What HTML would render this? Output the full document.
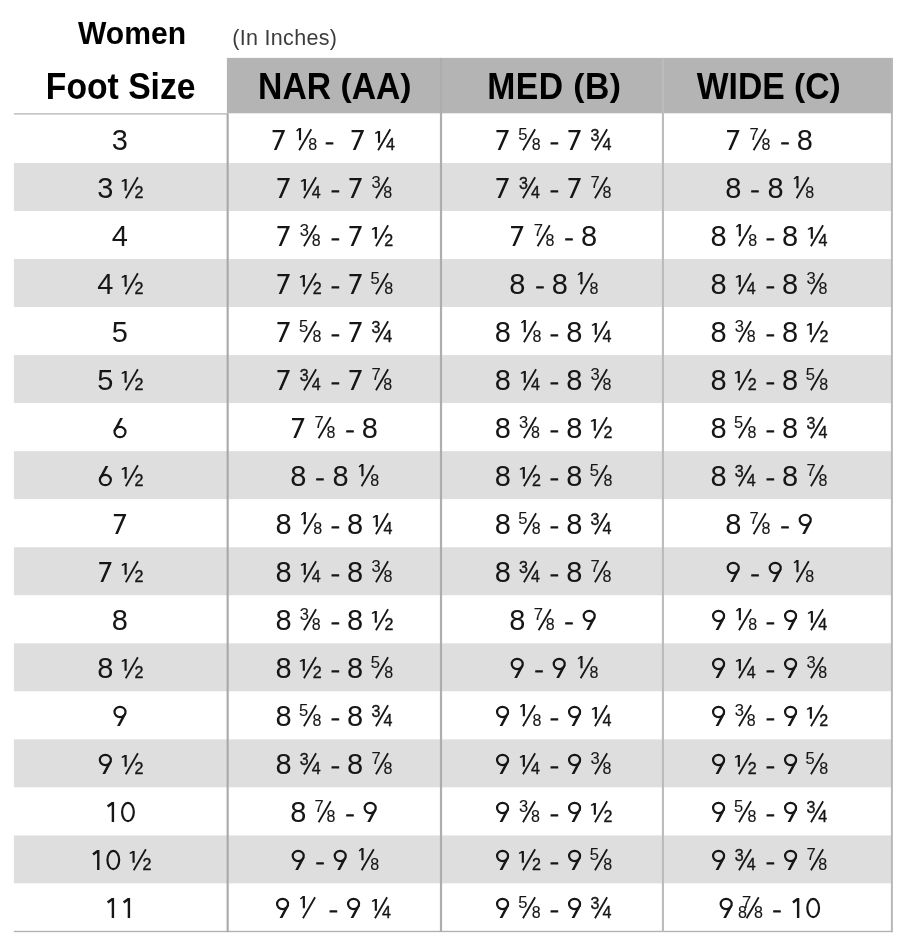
<!DOCTYPE html>
<html><head><meta charset="utf-8"><title>Women Foot Size Chart</title>
<style>
html,body{margin:0;padding:0;background:#fff;}
body{width:900px;height:946px;position:relative;overflow:hidden;font-family:"Liberation Sans",sans-serif;color:#161616;}
.abs{position:absolute;}
.layer{position:absolute;left:0;top:0;width:900px;height:946px;will-change:transform;}
.bg{position:absolute;left:0;top:0;}
.band{position:absolute;left:13.5px;width:878px;height:48px;background:#dedede;}
.hdr{position:absolute;left:227px;top:58px;width:665.5px;height:55.5px;background:#b4b4b4;}
.vl{position:absolute;top:58px;height:873.5px;width:2px;}
.hl{position:absolute;}
.t{position:absolute;white-space:nowrap;font-size:29px;line-height:30px;height:30px;transform:translateX(-50%);}
.s{display:inline-block;width:9.3px;}
.f{display:inline-block;position:relative;width:21.2px;margin-left:-1.1px;margin-right:-0.1px;height:20px;vertical-align:baseline;}
.sl{position:absolute;left:0;top:-1.6px;overflow:visible;}
.sl line{stroke:#161616;stroke-width:1.8;stroke-linecap:butt;}
.nE,.nL,.d{position:absolute;line-height:1;-webkit-text-stroke:0.12px #161616;}
.nL,.dL{-webkit-text-stroke:0.38px #161616;}
.nE{left:0;top:-3.4px;font-size:16.5px;}
.nL{left:0;top:-1.9px;font-size:16px;}
.n1{position:absolute;left:0;overflow:visible;fill:#161616;}
.o1{display:inline-block;width:16.1px;height:20px;vertical-align:baseline;}
.o7{display:inline-block;width:16.1px;height:20px;vertical-align:baseline;}
.hy svg,.o1 svg,.o7 svg{display:block;fill:#161616;overflow:visible;}
.d{right:0.3px;top:7.2px;font-size:16px;}
.p{display:inline-block;transform:translateY(-1.5px) scaleY(0.89);}
.hy{display:inline-block;width:7.7px;height:3px;vertical-align:4.8px;margin-left:0.9px;margin-right:-1.0px;}
.h{position:absolute;white-space:pre;font-weight:bold;font-size:33.7px;line-height:40px;height:40px;color:#000;transform:translateX(-50%) scaleY(1.068);transform-origin:50% 31.8px;}
</style></head><body>

<svg class="bg" width="900" height="946" viewBox="0 0 900 946"><rect x="13.9" y="163.00" width="877.6" height="47.95" fill="#dedede"/><rect x="13.9" y="259.06" width="877.6" height="47.95" fill="#dedede"/><rect x="13.9" y="355.12" width="877.6" height="47.95" fill="#dedede"/><rect x="13.9" y="451.18" width="877.6" height="47.95" fill="#dedede"/><rect x="13.9" y="547.24" width="877.6" height="47.95" fill="#dedede"/><rect x="13.9" y="643.30" width="877.6" height="47.95" fill="#dedede"/><rect x="13.9" y="739.36" width="877.6" height="47.95" fill="#dedede"/><rect x="13.9" y="835.42" width="877.6" height="47.95" fill="#dedede"/><rect x="226.9" y="57.9" width="665.9" height="55.4" fill="#b4b4b4"/><rect x="13.9" y="113.2" width="213.2" height="1.4" fill="#bbbbbb"/><rect x="13.9" y="930.8" width="879" height="1.35" fill="#b0b0b0"/><rect x="226.6" y="113.3" width="2.1" height="818.8" fill="#a9a9a9"/><rect x="439.9" y="57.9" width="2.2" height="874" fill="#adadad"/><rect x="661.9" y="57.9" width="2.1" height="874" fill="#bcbcbc"/><rect x="890.9" y="57.9" width="2.0" height="874.2" fill="#b8b8b8"/></svg>
<div class="layer">
<div class="abs" style="left:78px;top:15.6px;font-weight:bold;font-size:30.1px;line-height:36px;white-space:pre;color:#000;transform:scaleY(1.07);transform-origin:0 28.4px">Women</div>
<div class="abs" style="left:232.2px;top:25px;font-size:21.5px;line-height:26px;white-space:pre;color:#3c3c3c;letter-spacing:0.32px">(In Inches)</div>
<div class="h" style="left:120.7px;top:67.2px;letter-spacing:0.00px">Foot Size</div>
<div class="h" style="left:334.8px;top:67.2px;letter-spacing:0.00px">NAR <span class="p">(</span>AA<span class="p">)</span></div>
<div class="h" style="left:554.3px;top:67.2px;letter-spacing:0.43px">MED <span class="p">(</span>B<span class="p">)</span></div>
<div class="h" style="left:768.8px;top:67.2px;letter-spacing:0.00px">WIDE <span class="p">(</span>C<span class="p">)</span></div>
<div class="t" style="left:119.9px;top:124.70px">3</div>
<div class="t" style="left:332.8px;top:124.70px"><span class="o7"><svg width="16.1" height="20" viewBox="0 0 16.1 20"><polygon points="1.9,0 14.2,0 14.2,0.9 5.9,20 3.2,20 10.9,2.2 1.9,2.2"/></svg></span><span class="s"></span><span class="f"><svg class="sl" width="22" height="26" viewBox="0 0 22 26"><line x1="16.6" y1="1.25" x2="4.45" y2="22.3"/></svg><svg class="n1" style="top:-1.5px" width="8" height="13" viewBox="0 0 8 13"><polygon points="6.4,0 4.25,0 1.4,2.5 2.45,3.4 4.25,2.0 4.25,12.2 6.4,12.2"/></svg><span class="d" style="right:-1.2px">8</span></span><span class="s"></span><span class="hy"><svg width="8" height="3" viewBox="0 0 8 3"><rect x="0" y="0.35" width="7.7" height="2.25" rx="0.5"/></svg></span><span class="s"></span><span class="s" style="width:7.7px"></span><span class="o7"><svg width="16.1" height="20" viewBox="0 0 16.1 20"><polygon points="1.9,0 14.2,0 14.2,0.9 5.9,20 3.2,20 10.9,2.2 1.9,2.2"/></svg></span><span class="s"></span><span class="f"><svg class="sl" width="22" height="26" viewBox="0 0 22 26"><line x1="16.6" y1="1.25" x2="4.45" y2="22.3"/></svg><svg class="n1" style="top:1.2px;left:0.0px" width="8" height="13" viewBox="0 0 8 13"><polygon points="6.4,0 4.25,0 1.05,1.9 1.95,3.0 4.25,1.9 4.25,11.8 6.4,11.8"/></svg><span class="d dL" style="right:0.3px">4</span></span></div>
<div class="t" style="left:553.2px;top:124.70px"><span class="o7"><svg width="16.1" height="20" viewBox="0 0 16.1 20"><polygon points="1.9,0 14.2,0 14.2,0.9 5.9,20 3.2,20 10.9,2.2 1.9,2.2"/></svg></span><span class="s"></span><span class="f"><svg class="sl" width="22" height="26" viewBox="0 0 22 26"><line x1="16.6" y1="1.25" x2="4.45" y2="22.3"/></svg><span class="nE" style="left:-0.8px">5</span><span class="d" style="right:-0.5px">8</span></span><span class="s"></span><span class="hy"><svg width="8" height="3" viewBox="0 0 8 3"><rect x="0" y="0.35" width="7.7" height="2.25" rx="0.5"/></svg></span><span class="s"></span><span class="o7"><svg width="16.1" height="20" viewBox="0 0 16.1 20"><polygon points="1.9,0 14.2,0 14.2,0.9 5.9,20 3.2,20 10.9,2.2 1.9,2.2"/></svg></span><span class="s"></span><span class="f"><svg class="sl" width="22" height="26" viewBox="0 0 22 26"><line x1="16.6" y1="1.25" x2="4.45" y2="22.3"/></svg><span class="nL" style="left:0.0px">3</span><span class="d dL" style="right:0.3px">4</span></span></div>
<div class="t" style="left:769.0px;top:124.70px"><span class="o7"><svg width="16.1" height="20" viewBox="0 0 16.1 20"><polygon points="1.9,0 14.2,0 14.2,0.9 5.9,20 3.2,20 10.9,2.2 1.9,2.2"/></svg></span><span class="s"></span><span class="f"><svg class="sl" width="22" height="26" viewBox="0 0 22 26"><line x1="16.6" y1="1.25" x2="4.45" y2="22.3"/></svg><span class="nE" style="left:0.0px">7</span><span class="d" style="right:0.3px">8</span></span><span class="s"></span><span class="hy"><svg width="8" height="3" viewBox="0 0 8 3"><rect x="0" y="0.35" width="7.7" height="2.25" rx="0.5"/></svg></span><span class="s"></span>8</div>
<div class="t" style="left:119.9px;top:172.70px">3<span class="s"></span><span class="f"><svg class="sl" width="22" height="26" viewBox="0 0 22 26"><line x1="16.6" y1="1.25" x2="4.45" y2="22.3"/></svg><svg class="n1" style="top:1.2px;left:-1.0px" width="8" height="13" viewBox="0 0 8 13"><polygon points="6.4,0 4.25,0 1.05,1.9 1.95,3.0 4.25,1.9 4.25,11.8 6.4,11.8"/></svg><span class="d dL" style="right:-0.7px">2</span></span></div>
<div class="t" style="left:334.0px;top:172.70px"><span class="o7"><svg width="16.1" height="20" viewBox="0 0 16.1 20"><polygon points="1.9,0 14.2,0 14.2,0.9 5.9,20 3.2,20 10.9,2.2 1.9,2.2"/></svg></span><span class="s"></span><span class="f"><svg class="sl" width="22" height="26" viewBox="0 0 22 26"><line x1="16.6" y1="1.25" x2="4.45" y2="22.3"/></svg><svg class="n1" style="top:1.2px;left:0.0px" width="8" height="13" viewBox="0 0 8 13"><polygon points="6.4,0 4.25,0 1.05,1.9 1.95,3.0 4.25,1.9 4.25,11.8 6.4,11.8"/></svg><span class="d dL" style="right:0.3px">4</span></span><span class="s"></span><span class="hy"><svg width="8" height="3" viewBox="0 0 8 3"><rect x="0" y="0.35" width="7.7" height="2.25" rx="0.5"/></svg></span><span class="s"></span><span class="o7"><svg width="16.1" height="20" viewBox="0 0 16.1 20"><polygon points="1.9,0 14.2,0 14.2,0.9 5.9,20 3.2,20 10.9,2.2 1.9,2.2"/></svg></span><span class="s"></span><span class="f"><svg class="sl" width="22" height="26" viewBox="0 0 22 26"><line x1="16.6" y1="1.25" x2="4.45" y2="22.3"/></svg><span class="nE" style="left:0.0px">3</span><span class="d" style="right:0.3px">8</span></span></div>
<div class="t" style="left:553.2px;top:172.70px"><span class="o7"><svg width="16.1" height="20" viewBox="0 0 16.1 20"><polygon points="1.9,0 14.2,0 14.2,0.9 5.9,20 3.2,20 10.9,2.2 1.9,2.2"/></svg></span><span class="s"></span><span class="f"><svg class="sl" width="22" height="26" viewBox="0 0 22 26"><line x1="16.6" y1="1.25" x2="4.45" y2="22.3"/></svg><span class="nL" style="left:0.0px">3</span><span class="d dL" style="right:0.3px">4</span></span><span class="s"></span><span class="hy"><svg width="8" height="3" viewBox="0 0 8 3"><rect x="0" y="0.35" width="7.7" height="2.25" rx="0.5"/></svg></span><span class="s"></span><span class="o7"><svg width="16.1" height="20" viewBox="0 0 16.1 20"><polygon points="1.9,0 14.2,0 14.2,0.9 5.9,20 3.2,20 10.9,2.2 1.9,2.2"/></svg></span><span class="s"></span><span class="f"><svg class="sl" width="22" height="26" viewBox="0 0 22 26"><line x1="16.6" y1="1.25" x2="4.45" y2="22.3"/></svg><span class="nE" style="left:0.0px">7</span><span class="d" style="right:0.3px">8</span></span></div>
<div class="t" style="left:769.0px;top:172.70px">8<span class="s"></span><span class="hy"><svg width="8" height="3" viewBox="0 0 8 3"><rect x="0" y="0.35" width="7.7" height="2.25" rx="0.5"/></svg></span><span class="s"></span>8<span class="s"></span><span class="f"><svg class="sl" width="22" height="26" viewBox="0 0 22 26"><line x1="16.6" y1="1.25" x2="4.45" y2="22.3"/></svg><svg class="n1" style="top:-1.5px" width="8" height="13" viewBox="0 0 8 13"><polygon points="6.4,0 4.25,0 1.4,2.5 2.45,3.4 4.25,2.0 4.25,12.2 6.4,12.2"/></svg><span class="d" style="right:-1.2px">8</span></span></div>
<div class="t" style="left:119.9px;top:220.70px">4</div>
<div class="t" style="left:334.0px;top:220.70px"><span class="o7"><svg width="16.1" height="20" viewBox="0 0 16.1 20"><polygon points="1.9,0 14.2,0 14.2,0.9 5.9,20 3.2,20 10.9,2.2 1.9,2.2"/></svg></span><span class="s"></span><span class="f"><svg class="sl" width="22" height="26" viewBox="0 0 22 26"><line x1="16.6" y1="1.25" x2="4.45" y2="22.3"/></svg><span class="nE" style="left:0.0px">3</span><span class="d" style="right:0.3px">8</span></span><span class="s"></span><span class="hy"><svg width="8" height="3" viewBox="0 0 8 3"><rect x="0" y="0.35" width="7.7" height="2.25" rx="0.5"/></svg></span><span class="s"></span><span class="o7"><svg width="16.1" height="20" viewBox="0 0 16.1 20"><polygon points="1.9,0 14.2,0 14.2,0.9 5.9,20 3.2,20 10.9,2.2 1.9,2.2"/></svg></span><span class="s"></span><span class="f"><svg class="sl" width="22" height="26" viewBox="0 0 22 26"><line x1="16.6" y1="1.25" x2="4.45" y2="22.3"/></svg><svg class="n1" style="top:1.2px;left:-1.0px" width="8" height="13" viewBox="0 0 8 13"><polygon points="6.4,0 4.25,0 1.05,1.9 1.95,3.0 4.25,1.9 4.25,11.8 6.4,11.8"/></svg><span class="d dL" style="right:-0.7px">2</span></span></div>
<div class="t" style="left:553.2px;top:220.70px"><span class="o7"><svg width="16.1" height="20" viewBox="0 0 16.1 20"><polygon points="1.9,0 14.2,0 14.2,0.9 5.9,20 3.2,20 10.9,2.2 1.9,2.2"/></svg></span><span class="s"></span><span class="f"><svg class="sl" width="22" height="26" viewBox="0 0 22 26"><line x1="16.6" y1="1.25" x2="4.45" y2="22.3"/></svg><span class="nE" style="left:0.0px">7</span><span class="d" style="right:0.3px">8</span></span><span class="s"></span><span class="hy"><svg width="8" height="3" viewBox="0 0 8 3"><rect x="0" y="0.35" width="7.7" height="2.25" rx="0.5"/></svg></span><span class="s"></span>8</div>
<div class="t" style="left:769.0px;top:220.70px">8<span class="s"></span><span class="f"><svg class="sl" width="22" height="26" viewBox="0 0 22 26"><line x1="16.6" y1="1.25" x2="4.45" y2="22.3"/></svg><svg class="n1" style="top:-1.5px" width="8" height="13" viewBox="0 0 8 13"><polygon points="6.4,0 4.25,0 1.4,2.5 2.45,3.4 4.25,2.0 4.25,12.2 6.4,12.2"/></svg><span class="d" style="right:-1.2px">8</span></span><span class="s"></span><span class="hy"><svg width="8" height="3" viewBox="0 0 8 3"><rect x="0" y="0.35" width="7.7" height="2.25" rx="0.5"/></svg></span><span class="s"></span>8<span class="s"></span><span class="f"><svg class="sl" width="22" height="26" viewBox="0 0 22 26"><line x1="16.6" y1="1.25" x2="4.45" y2="22.3"/></svg><svg class="n1" style="top:1.2px;left:0.0px" width="8" height="13" viewBox="0 0 8 13"><polygon points="6.4,0 4.25,0 1.05,1.9 1.95,3.0 4.25,1.9 4.25,11.8 6.4,11.8"/></svg><span class="d dL" style="right:0.3px">4</span></span></div>
<div class="t" style="left:119.9px;top:268.70px">4<span class="s"></span><span class="f"><svg class="sl" width="22" height="26" viewBox="0 0 22 26"><line x1="16.6" y1="1.25" x2="4.45" y2="22.3"/></svg><svg class="n1" style="top:1.2px;left:-1.0px" width="8" height="13" viewBox="0 0 8 13"><polygon points="6.4,0 4.25,0 1.05,1.9 1.95,3.0 4.25,1.9 4.25,11.8 6.4,11.8"/></svg><span class="d dL" style="right:-0.7px">2</span></span></div>
<div class="t" style="left:334.0px;top:268.70px"><span class="o7"><svg width="16.1" height="20" viewBox="0 0 16.1 20"><polygon points="1.9,0 14.2,0 14.2,0.9 5.9,20 3.2,20 10.9,2.2 1.9,2.2"/></svg></span><span class="s"></span><span class="f"><svg class="sl" width="22" height="26" viewBox="0 0 22 26"><line x1="16.6" y1="1.25" x2="4.45" y2="22.3"/></svg><svg class="n1" style="top:1.2px;left:-1.0px" width="8" height="13" viewBox="0 0 8 13"><polygon points="6.4,0 4.25,0 1.05,1.9 1.95,3.0 4.25,1.9 4.25,11.8 6.4,11.8"/></svg><span class="d dL" style="right:-0.7px">2</span></span><span class="s"></span><span class="hy"><svg width="8" height="3" viewBox="0 0 8 3"><rect x="0" y="0.35" width="7.7" height="2.25" rx="0.5"/></svg></span><span class="s"></span><span class="o7"><svg width="16.1" height="20" viewBox="0 0 16.1 20"><polygon points="1.9,0 14.2,0 14.2,0.9 5.9,20 3.2,20 10.9,2.2 1.9,2.2"/></svg></span><span class="s"></span><span class="f"><svg class="sl" width="22" height="26" viewBox="0 0 22 26"><line x1="16.6" y1="1.25" x2="4.45" y2="22.3"/></svg><span class="nE" style="left:-0.8px">5</span><span class="d" style="right:-0.5px">8</span></span></div>
<div class="t" style="left:553.2px;top:268.70px">8<span class="s"></span><span class="hy"><svg width="8" height="3" viewBox="0 0 8 3"><rect x="0" y="0.35" width="7.7" height="2.25" rx="0.5"/></svg></span><span class="s"></span>8<span class="s"></span><span class="f"><svg class="sl" width="22" height="26" viewBox="0 0 22 26"><line x1="16.6" y1="1.25" x2="4.45" y2="22.3"/></svg><svg class="n1" style="top:-1.5px" width="8" height="13" viewBox="0 0 8 13"><polygon points="6.4,0 4.25,0 1.4,2.5 2.45,3.4 4.25,2.0 4.25,12.2 6.4,12.2"/></svg><span class="d" style="right:-1.2px">8</span></span></div>
<div class="t" style="left:769.0px;top:268.70px">8<span class="s"></span><span class="f"><svg class="sl" width="22" height="26" viewBox="0 0 22 26"><line x1="16.6" y1="1.25" x2="4.45" y2="22.3"/></svg><svg class="n1" style="top:1.2px;left:0.0px" width="8" height="13" viewBox="0 0 8 13"><polygon points="6.4,0 4.25,0 1.05,1.9 1.95,3.0 4.25,1.9 4.25,11.8 6.4,11.8"/></svg><span class="d dL" style="right:0.3px">4</span></span><span class="s"></span><span class="hy"><svg width="8" height="3" viewBox="0 0 8 3"><rect x="0" y="0.35" width="7.7" height="2.25" rx="0.5"/></svg></span><span class="s"></span>8<span class="s"></span><span class="f"><svg class="sl" width="22" height="26" viewBox="0 0 22 26"><line x1="16.6" y1="1.25" x2="4.45" y2="22.3"/></svg><span class="nE" style="left:0.0px">3</span><span class="d" style="right:0.3px">8</span></span></div>
<div class="t" style="left:119.9px;top:316.70px">5</div>
<div class="t" style="left:334.0px;top:316.70px"><span class="o7"><svg width="16.1" height="20" viewBox="0 0 16.1 20"><polygon points="1.9,0 14.2,0 14.2,0.9 5.9,20 3.2,20 10.9,2.2 1.9,2.2"/></svg></span><span class="s"></span><span class="f"><svg class="sl" width="22" height="26" viewBox="0 0 22 26"><line x1="16.6" y1="1.25" x2="4.45" y2="22.3"/></svg><span class="nE" style="left:-0.8px">5</span><span class="d" style="right:-0.5px">8</span></span><span class="s"></span><span class="hy"><svg width="8" height="3" viewBox="0 0 8 3"><rect x="0" y="0.35" width="7.7" height="2.25" rx="0.5"/></svg></span><span class="s"></span><span class="o7"><svg width="16.1" height="20" viewBox="0 0 16.1 20"><polygon points="1.9,0 14.2,0 14.2,0.9 5.9,20 3.2,20 10.9,2.2 1.9,2.2"/></svg></span><span class="s"></span><span class="f"><svg class="sl" width="22" height="26" viewBox="0 0 22 26"><line x1="16.6" y1="1.25" x2="4.45" y2="22.3"/></svg><span class="nL" style="left:0.0px">3</span><span class="d dL" style="right:0.3px">4</span></span></div>
<div class="t" style="left:553.2px;top:316.70px">8<span class="s"></span><span class="f"><svg class="sl" width="22" height="26" viewBox="0 0 22 26"><line x1="16.6" y1="1.25" x2="4.45" y2="22.3"/></svg><svg class="n1" style="top:-1.5px" width="8" height="13" viewBox="0 0 8 13"><polygon points="6.4,0 4.25,0 1.4,2.5 2.45,3.4 4.25,2.0 4.25,12.2 6.4,12.2"/></svg><span class="d" style="right:-1.2px">8</span></span><span class="s"></span><span class="hy"><svg width="8" height="3" viewBox="0 0 8 3"><rect x="0" y="0.35" width="7.7" height="2.25" rx="0.5"/></svg></span><span class="s"></span>8<span class="s"></span><span class="f"><svg class="sl" width="22" height="26" viewBox="0 0 22 26"><line x1="16.6" y1="1.25" x2="4.45" y2="22.3"/></svg><svg class="n1" style="top:1.2px;left:0.0px" width="8" height="13" viewBox="0 0 8 13"><polygon points="6.4,0 4.25,0 1.05,1.9 1.95,3.0 4.25,1.9 4.25,11.8 6.4,11.8"/></svg><span class="d dL" style="right:0.3px">4</span></span></div>
<div class="t" style="left:769.0px;top:316.70px">8<span class="s"></span><span class="f"><svg class="sl" width="22" height="26" viewBox="0 0 22 26"><line x1="16.6" y1="1.25" x2="4.45" y2="22.3"/></svg><span class="nE" style="left:0.0px">3</span><span class="d" style="right:0.3px">8</span></span><span class="s"></span><span class="hy"><svg width="8" height="3" viewBox="0 0 8 3"><rect x="0" y="0.35" width="7.7" height="2.25" rx="0.5"/></svg></span><span class="s"></span>8<span class="s"></span><span class="f"><svg class="sl" width="22" height="26" viewBox="0 0 22 26"><line x1="16.6" y1="1.25" x2="4.45" y2="22.3"/></svg><svg class="n1" style="top:1.2px;left:-1.0px" width="8" height="13" viewBox="0 0 8 13"><polygon points="6.4,0 4.25,0 1.05,1.9 1.95,3.0 4.25,1.9 4.25,11.8 6.4,11.8"/></svg><span class="d dL" style="right:-0.7px">2</span></span></div>
<div class="t" style="left:119.9px;top:364.70px">5<span class="s"></span><span class="f"><svg class="sl" width="22" height="26" viewBox="0 0 22 26"><line x1="16.6" y1="1.25" x2="4.45" y2="22.3"/></svg><svg class="n1" style="top:1.2px;left:-1.0px" width="8" height="13" viewBox="0 0 8 13"><polygon points="6.4,0 4.25,0 1.05,1.9 1.95,3.0 4.25,1.9 4.25,11.8 6.4,11.8"/></svg><span class="d dL" style="right:-0.7px">2</span></span></div>
<div class="t" style="left:334.0px;top:364.70px"><span class="o7"><svg width="16.1" height="20" viewBox="0 0 16.1 20"><polygon points="1.9,0 14.2,0 14.2,0.9 5.9,20 3.2,20 10.9,2.2 1.9,2.2"/></svg></span><span class="s"></span><span class="f"><svg class="sl" width="22" height="26" viewBox="0 0 22 26"><line x1="16.6" y1="1.25" x2="4.45" y2="22.3"/></svg><span class="nL" style="left:0.0px">3</span><span class="d dL" style="right:0.3px">4</span></span><span class="s"></span><span class="hy"><svg width="8" height="3" viewBox="0 0 8 3"><rect x="0" y="0.35" width="7.7" height="2.25" rx="0.5"/></svg></span><span class="s"></span><span class="o7"><svg width="16.1" height="20" viewBox="0 0 16.1 20"><polygon points="1.9,0 14.2,0 14.2,0.9 5.9,20 3.2,20 10.9,2.2 1.9,2.2"/></svg></span><span class="s"></span><span class="f"><svg class="sl" width="22" height="26" viewBox="0 0 22 26"><line x1="16.6" y1="1.25" x2="4.45" y2="22.3"/></svg><span class="nE" style="left:0.0px">7</span><span class="d" style="right:0.3px">8</span></span></div>
<div class="t" style="left:553.2px;top:364.70px">8<span class="s"></span><span class="f"><svg class="sl" width="22" height="26" viewBox="0 0 22 26"><line x1="16.6" y1="1.25" x2="4.45" y2="22.3"/></svg><svg class="n1" style="top:1.2px;left:0.0px" width="8" height="13" viewBox="0 0 8 13"><polygon points="6.4,0 4.25,0 1.05,1.9 1.95,3.0 4.25,1.9 4.25,11.8 6.4,11.8"/></svg><span class="d dL" style="right:0.3px">4</span></span><span class="s"></span><span class="hy"><svg width="8" height="3" viewBox="0 0 8 3"><rect x="0" y="0.35" width="7.7" height="2.25" rx="0.5"/></svg></span><span class="s"></span>8<span class="s"></span><span class="f"><svg class="sl" width="22" height="26" viewBox="0 0 22 26"><line x1="16.6" y1="1.25" x2="4.45" y2="22.3"/></svg><span class="nE" style="left:0.0px">3</span><span class="d" style="right:0.3px">8</span></span></div>
<div class="t" style="left:769.0px;top:364.70px">8<span class="s"></span><span class="f"><svg class="sl" width="22" height="26" viewBox="0 0 22 26"><line x1="16.6" y1="1.25" x2="4.45" y2="22.3"/></svg><svg class="n1" style="top:1.2px;left:-1.0px" width="8" height="13" viewBox="0 0 8 13"><polygon points="6.4,0 4.25,0 1.05,1.9 1.95,3.0 4.25,1.9 4.25,11.8 6.4,11.8"/></svg><span class="d dL" style="right:-0.7px">2</span></span><span class="s"></span><span class="hy"><svg width="8" height="3" viewBox="0 0 8 3"><rect x="0" y="0.35" width="7.7" height="2.25" rx="0.5"/></svg></span><span class="s"></span>8<span class="s"></span><span class="f"><svg class="sl" width="22" height="26" viewBox="0 0 22 26"><line x1="16.6" y1="1.25" x2="4.45" y2="22.3"/></svg><span class="nE" style="left:-0.8px">5</span><span class="d" style="right:-0.5px">8</span></span></div>
<div class="t" style="left:119.9px;top:412.70px"><span class="o7"><svg width="16.1" height="20" viewBox="0 0 16.1 20"><g transform="rotate(180 8.05 10)"><ellipse cx="8.05" cy="5.95" rx="5.5" ry="5.15" fill="none" stroke="#161616" stroke-width="2.2"/><polygon points="14.55,7.5 7.9,20 5.1,20 10.15,10.5 13.0,6.8"/></g></svg></span></div>
<div class="t" style="left:334.0px;top:412.70px"><span class="o7"><svg width="16.1" height="20" viewBox="0 0 16.1 20"><polygon points="1.9,0 14.2,0 14.2,0.9 5.9,20 3.2,20 10.9,2.2 1.9,2.2"/></svg></span><span class="s"></span><span class="f"><svg class="sl" width="22" height="26" viewBox="0 0 22 26"><line x1="16.6" y1="1.25" x2="4.45" y2="22.3"/></svg><span class="nE" style="left:0.0px">7</span><span class="d" style="right:0.3px">8</span></span><span class="s"></span><span class="hy"><svg width="8" height="3" viewBox="0 0 8 3"><rect x="0" y="0.35" width="7.7" height="2.25" rx="0.5"/></svg></span><span class="s"></span>8</div>
<div class="t" style="left:553.2px;top:412.70px">8<span class="s"></span><span class="f"><svg class="sl" width="22" height="26" viewBox="0 0 22 26"><line x1="16.6" y1="1.25" x2="4.45" y2="22.3"/></svg><span class="nE" style="left:0.0px">3</span><span class="d" style="right:0.3px">8</span></span><span class="s"></span><span class="hy"><svg width="8" height="3" viewBox="0 0 8 3"><rect x="0" y="0.35" width="7.7" height="2.25" rx="0.5"/></svg></span><span class="s"></span>8<span class="s"></span><span class="f"><svg class="sl" width="22" height="26" viewBox="0 0 22 26"><line x1="16.6" y1="1.25" x2="4.45" y2="22.3"/></svg><svg class="n1" style="top:1.2px;left:-1.0px" width="8" height="13" viewBox="0 0 8 13"><polygon points="6.4,0 4.25,0 1.05,1.9 1.95,3.0 4.25,1.9 4.25,11.8 6.4,11.8"/></svg><span class="d dL" style="right:-0.7px">2</span></span></div>
<div class="t" style="left:769.0px;top:412.70px">8<span class="s"></span><span class="f"><svg class="sl" width="22" height="26" viewBox="0 0 22 26"><line x1="16.6" y1="1.25" x2="4.45" y2="22.3"/></svg><span class="nE" style="left:-0.8px">5</span><span class="d" style="right:-0.5px">8</span></span><span class="s"></span><span class="hy"><svg width="8" height="3" viewBox="0 0 8 3"><rect x="0" y="0.35" width="7.7" height="2.25" rx="0.5"/></svg></span><span class="s"></span>8<span class="s"></span><span class="f"><svg class="sl" width="22" height="26" viewBox="0 0 22 26"><line x1="16.6" y1="1.25" x2="4.45" y2="22.3"/></svg><span class="nL" style="left:0.0px">3</span><span class="d dL" style="right:0.3px">4</span></span></div>
<div class="t" style="left:119.9px;top:460.70px"><span class="o7"><svg width="16.1" height="20" viewBox="0 0 16.1 20"><g transform="rotate(180 8.05 10)"><ellipse cx="8.05" cy="5.95" rx="5.5" ry="5.15" fill="none" stroke="#161616" stroke-width="2.2"/><polygon points="14.55,7.5 7.9,20 5.1,20 10.15,10.5 13.0,6.8"/></g></svg></span><span class="s"></span><span class="f"><svg class="sl" width="22" height="26" viewBox="0 0 22 26"><line x1="16.6" y1="1.25" x2="4.45" y2="22.3"/></svg><svg class="n1" style="top:1.2px;left:-1.0px" width="8" height="13" viewBox="0 0 8 13"><polygon points="6.4,0 4.25,0 1.05,1.9 1.95,3.0 4.25,1.9 4.25,11.8 6.4,11.8"/></svg><span class="d dL" style="right:-0.7px">2</span></span></div>
<div class="t" style="left:334.0px;top:460.70px">8<span class="s"></span><span class="hy"><svg width="8" height="3" viewBox="0 0 8 3"><rect x="0" y="0.35" width="7.7" height="2.25" rx="0.5"/></svg></span><span class="s"></span>8<span class="s"></span><span class="f"><svg class="sl" width="22" height="26" viewBox="0 0 22 26"><line x1="16.6" y1="1.25" x2="4.45" y2="22.3"/></svg><svg class="n1" style="top:-1.5px" width="8" height="13" viewBox="0 0 8 13"><polygon points="6.4,0 4.25,0 1.4,2.5 2.45,3.4 4.25,2.0 4.25,12.2 6.4,12.2"/></svg><span class="d" style="right:-1.2px">8</span></span></div>
<div class="t" style="left:553.2px;top:460.70px">8<span class="s"></span><span class="f"><svg class="sl" width="22" height="26" viewBox="0 0 22 26"><line x1="16.6" y1="1.25" x2="4.45" y2="22.3"/></svg><svg class="n1" style="top:1.2px;left:-1.0px" width="8" height="13" viewBox="0 0 8 13"><polygon points="6.4,0 4.25,0 1.05,1.9 1.95,3.0 4.25,1.9 4.25,11.8 6.4,11.8"/></svg><span class="d dL" style="right:-0.7px">2</span></span><span class="s"></span><span class="hy"><svg width="8" height="3" viewBox="0 0 8 3"><rect x="0" y="0.35" width="7.7" height="2.25" rx="0.5"/></svg></span><span class="s"></span>8<span class="s"></span><span class="f"><svg class="sl" width="22" height="26" viewBox="0 0 22 26"><line x1="16.6" y1="1.25" x2="4.45" y2="22.3"/></svg><span class="nE" style="left:-0.8px">5</span><span class="d" style="right:-0.5px">8</span></span></div>
<div class="t" style="left:769.0px;top:460.70px">8<span class="s"></span><span class="f"><svg class="sl" width="22" height="26" viewBox="0 0 22 26"><line x1="16.6" y1="1.25" x2="4.45" y2="22.3"/></svg><span class="nL" style="left:0.0px">3</span><span class="d dL" style="right:0.3px">4</span></span><span class="s"></span><span class="hy"><svg width="8" height="3" viewBox="0 0 8 3"><rect x="0" y="0.35" width="7.7" height="2.25" rx="0.5"/></svg></span><span class="s"></span>8<span class="s"></span><span class="f"><svg class="sl" width="22" height="26" viewBox="0 0 22 26"><line x1="16.6" y1="1.25" x2="4.45" y2="22.3"/></svg><span class="nE" style="left:0.0px">7</span><span class="d" style="right:0.3px">8</span></span></div>
<div class="t" style="left:119.9px;top:508.70px"><span class="o7"><svg width="16.1" height="20" viewBox="0 0 16.1 20"><polygon points="1.9,0 14.2,0 14.2,0.9 5.9,20 3.2,20 10.9,2.2 1.9,2.2"/></svg></span></div>
<div class="t" style="left:334.0px;top:508.70px">8<span class="s"></span><span class="f"><svg class="sl" width="22" height="26" viewBox="0 0 22 26"><line x1="16.6" y1="1.25" x2="4.45" y2="22.3"/></svg><svg class="n1" style="top:-1.5px" width="8" height="13" viewBox="0 0 8 13"><polygon points="6.4,0 4.25,0 1.4,2.5 2.45,3.4 4.25,2.0 4.25,12.2 6.4,12.2"/></svg><span class="d" style="right:-1.2px">8</span></span><span class="s"></span><span class="hy"><svg width="8" height="3" viewBox="0 0 8 3"><rect x="0" y="0.35" width="7.7" height="2.25" rx="0.5"/></svg></span><span class="s"></span>8<span class="s"></span><span class="f"><svg class="sl" width="22" height="26" viewBox="0 0 22 26"><line x1="16.6" y1="1.25" x2="4.45" y2="22.3"/></svg><svg class="n1" style="top:1.2px;left:0.0px" width="8" height="13" viewBox="0 0 8 13"><polygon points="6.4,0 4.25,0 1.05,1.9 1.95,3.0 4.25,1.9 4.25,11.8 6.4,11.8"/></svg><span class="d dL" style="right:0.3px">4</span></span></div>
<div class="t" style="left:553.2px;top:508.70px">8<span class="s"></span><span class="f"><svg class="sl" width="22" height="26" viewBox="0 0 22 26"><line x1="16.6" y1="1.25" x2="4.45" y2="22.3"/></svg><span class="nE" style="left:-0.8px">5</span><span class="d" style="right:-0.5px">8</span></span><span class="s"></span><span class="hy"><svg width="8" height="3" viewBox="0 0 8 3"><rect x="0" y="0.35" width="7.7" height="2.25" rx="0.5"/></svg></span><span class="s"></span>8<span class="s"></span><span class="f"><svg class="sl" width="22" height="26" viewBox="0 0 22 26"><line x1="16.6" y1="1.25" x2="4.45" y2="22.3"/></svg><span class="nL" style="left:0.0px">3</span><span class="d dL" style="right:0.3px">4</span></span></div>
<div class="t" style="left:769.0px;top:508.70px">8<span class="s"></span><span class="f"><svg class="sl" width="22" height="26" viewBox="0 0 22 26"><line x1="16.6" y1="1.25" x2="4.45" y2="22.3"/></svg><span class="nE" style="left:0.0px">7</span><span class="d" style="right:0.3px">8</span></span><span class="s"></span><span class="hy"><svg width="8" height="3" viewBox="0 0 8 3"><rect x="0" y="0.35" width="7.7" height="2.25" rx="0.5"/></svg></span><span class="s"></span><span class="o7"><svg width="16.1" height="20" viewBox="0 0 16.1 20"><ellipse cx="8.05" cy="5.95" rx="5.5" ry="5.15" fill="none" stroke="#161616" stroke-width="2.2"/><polygon points="14.55,7.5 7.9,20 5.1,20 10.15,10.5 13.0,6.8"/></svg></span></div>
<div class="t" style="left:119.9px;top:556.70px"><span class="o7"><svg width="16.1" height="20" viewBox="0 0 16.1 20"><polygon points="1.9,0 14.2,0 14.2,0.9 5.9,20 3.2,20 10.9,2.2 1.9,2.2"/></svg></span><span class="s"></span><span class="f"><svg class="sl" width="22" height="26" viewBox="0 0 22 26"><line x1="16.6" y1="1.25" x2="4.45" y2="22.3"/></svg><svg class="n1" style="top:1.2px;left:-1.0px" width="8" height="13" viewBox="0 0 8 13"><polygon points="6.4,0 4.25,0 1.05,1.9 1.95,3.0 4.25,1.9 4.25,11.8 6.4,11.8"/></svg><span class="d dL" style="right:-0.7px">2</span></span></div>
<div class="t" style="left:334.0px;top:556.70px">8<span class="s"></span><span class="f"><svg class="sl" width="22" height="26" viewBox="0 0 22 26"><line x1="16.6" y1="1.25" x2="4.45" y2="22.3"/></svg><svg class="n1" style="top:1.2px;left:0.0px" width="8" height="13" viewBox="0 0 8 13"><polygon points="6.4,0 4.25,0 1.05,1.9 1.95,3.0 4.25,1.9 4.25,11.8 6.4,11.8"/></svg><span class="d dL" style="right:0.3px">4</span></span><span class="s"></span><span class="hy"><svg width="8" height="3" viewBox="0 0 8 3"><rect x="0" y="0.35" width="7.7" height="2.25" rx="0.5"/></svg></span><span class="s"></span>8<span class="s"></span><span class="f"><svg class="sl" width="22" height="26" viewBox="0 0 22 26"><line x1="16.6" y1="1.25" x2="4.45" y2="22.3"/></svg><span class="nE" style="left:0.0px">3</span><span class="d" style="right:0.3px">8</span></span></div>
<div class="t" style="left:553.2px;top:556.70px">8<span class="s"></span><span class="f"><svg class="sl" width="22" height="26" viewBox="0 0 22 26"><line x1="16.6" y1="1.25" x2="4.45" y2="22.3"/></svg><span class="nL" style="left:0.0px">3</span><span class="d dL" style="right:0.3px">4</span></span><span class="s"></span><span class="hy"><svg width="8" height="3" viewBox="0 0 8 3"><rect x="0" y="0.35" width="7.7" height="2.25" rx="0.5"/></svg></span><span class="s"></span>8<span class="s"></span><span class="f"><svg class="sl" width="22" height="26" viewBox="0 0 22 26"><line x1="16.6" y1="1.25" x2="4.45" y2="22.3"/></svg><span class="nE" style="left:0.0px">7</span><span class="d" style="right:0.3px">8</span></span></div>
<div class="t" style="left:769.0px;top:556.70px"><span class="o7"><svg width="16.1" height="20" viewBox="0 0 16.1 20"><ellipse cx="8.05" cy="5.95" rx="5.5" ry="5.15" fill="none" stroke="#161616" stroke-width="2.2"/><polygon points="14.55,7.5 7.9,20 5.1,20 10.15,10.5 13.0,6.8"/></svg></span><span class="s"></span><span class="hy"><svg width="8" height="3" viewBox="0 0 8 3"><rect x="0" y="0.35" width="7.7" height="2.25" rx="0.5"/></svg></span><span class="s"></span><span class="o7"><svg width="16.1" height="20" viewBox="0 0 16.1 20"><ellipse cx="8.05" cy="5.95" rx="5.5" ry="5.15" fill="none" stroke="#161616" stroke-width="2.2"/><polygon points="14.55,7.5 7.9,20 5.1,20 10.15,10.5 13.0,6.8"/></svg></span><span class="s"></span><span class="f"><svg class="sl" width="22" height="26" viewBox="0 0 22 26"><line x1="16.6" y1="1.25" x2="4.45" y2="22.3"/></svg><svg class="n1" style="top:-1.5px" width="8" height="13" viewBox="0 0 8 13"><polygon points="6.4,0 4.25,0 1.4,2.5 2.45,3.4 4.25,2.0 4.25,12.2 6.4,12.2"/></svg><span class="d" style="right:-1.2px">8</span></span></div>
<div class="t" style="left:119.9px;top:604.70px">8</div>
<div class="t" style="left:334.0px;top:604.70px">8<span class="s"></span><span class="f"><svg class="sl" width="22" height="26" viewBox="0 0 22 26"><line x1="16.6" y1="1.25" x2="4.45" y2="22.3"/></svg><span class="nE" style="left:0.0px">3</span><span class="d" style="right:0.3px">8</span></span><span class="s"></span><span class="hy"><svg width="8" height="3" viewBox="0 0 8 3"><rect x="0" y="0.35" width="7.7" height="2.25" rx="0.5"/></svg></span><span class="s"></span>8<span class="s"></span><span class="f"><svg class="sl" width="22" height="26" viewBox="0 0 22 26"><line x1="16.6" y1="1.25" x2="4.45" y2="22.3"/></svg><svg class="n1" style="top:1.2px;left:-1.0px" width="8" height="13" viewBox="0 0 8 13"><polygon points="6.4,0 4.25,0 1.05,1.9 1.95,3.0 4.25,1.9 4.25,11.8 6.4,11.8"/></svg><span class="d dL" style="right:-0.7px">2</span></span></div>
<div class="t" style="left:553.2px;top:604.70px">8<span class="s"></span><span class="f"><svg class="sl" width="22" height="26" viewBox="0 0 22 26"><line x1="16.6" y1="1.25" x2="4.45" y2="22.3"/></svg><span class="nE" style="left:0.0px">7</span><span class="d" style="right:0.3px">8</span></span><span class="s"></span><span class="hy"><svg width="8" height="3" viewBox="0 0 8 3"><rect x="0" y="0.35" width="7.7" height="2.25" rx="0.5"/></svg></span><span class="s"></span><span class="o7"><svg width="16.1" height="20" viewBox="0 0 16.1 20"><ellipse cx="8.05" cy="5.95" rx="5.5" ry="5.15" fill="none" stroke="#161616" stroke-width="2.2"/><polygon points="14.55,7.5 7.9,20 5.1,20 10.15,10.5 13.0,6.8"/></svg></span></div>
<div class="t" style="left:769.0px;top:604.70px"><span class="o7"><svg width="16.1" height="20" viewBox="0 0 16.1 20"><ellipse cx="8.05" cy="5.95" rx="5.5" ry="5.15" fill="none" stroke="#161616" stroke-width="2.2"/><polygon points="14.55,7.5 7.9,20 5.1,20 10.15,10.5 13.0,6.8"/></svg></span><span class="s"></span><span class="f"><svg class="sl" width="22" height="26" viewBox="0 0 22 26"><line x1="16.6" y1="1.25" x2="4.45" y2="22.3"/></svg><svg class="n1" style="top:-1.5px" width="8" height="13" viewBox="0 0 8 13"><polygon points="6.4,0 4.25,0 1.4,2.5 2.45,3.4 4.25,2.0 4.25,12.2 6.4,12.2"/></svg><span class="d" style="right:-1.2px">8</span></span><span class="s"></span><span class="hy"><svg width="8" height="3" viewBox="0 0 8 3"><rect x="0" y="0.35" width="7.7" height="2.25" rx="0.5"/></svg></span><span class="s"></span><span class="o7"><svg width="16.1" height="20" viewBox="0 0 16.1 20"><ellipse cx="8.05" cy="5.95" rx="5.5" ry="5.15" fill="none" stroke="#161616" stroke-width="2.2"/><polygon points="14.55,7.5 7.9,20 5.1,20 10.15,10.5 13.0,6.8"/></svg></span><span class="s"></span><span class="f"><svg class="sl" width="22" height="26" viewBox="0 0 22 26"><line x1="16.6" y1="1.25" x2="4.45" y2="22.3"/></svg><svg class="n1" style="top:1.2px;left:0.0px" width="8" height="13" viewBox="0 0 8 13"><polygon points="6.4,0 4.25,0 1.05,1.9 1.95,3.0 4.25,1.9 4.25,11.8 6.4,11.8"/></svg><span class="d dL" style="right:0.3px">4</span></span></div>
<div class="t" style="left:119.9px;top:652.70px">8<span class="s"></span><span class="f"><svg class="sl" width="22" height="26" viewBox="0 0 22 26"><line x1="16.6" y1="1.25" x2="4.45" y2="22.3"/></svg><svg class="n1" style="top:1.2px;left:-1.0px" width="8" height="13" viewBox="0 0 8 13"><polygon points="6.4,0 4.25,0 1.05,1.9 1.95,3.0 4.25,1.9 4.25,11.8 6.4,11.8"/></svg><span class="d dL" style="right:-0.7px">2</span></span></div>
<div class="t" style="left:334.0px;top:652.70px">8<span class="s"></span><span class="f"><svg class="sl" width="22" height="26" viewBox="0 0 22 26"><line x1="16.6" y1="1.25" x2="4.45" y2="22.3"/></svg><svg class="n1" style="top:1.2px;left:-1.0px" width="8" height="13" viewBox="0 0 8 13"><polygon points="6.4,0 4.25,0 1.05,1.9 1.95,3.0 4.25,1.9 4.25,11.8 6.4,11.8"/></svg><span class="d dL" style="right:-0.7px">2</span></span><span class="s"></span><span class="hy"><svg width="8" height="3" viewBox="0 0 8 3"><rect x="0" y="0.35" width="7.7" height="2.25" rx="0.5"/></svg></span><span class="s"></span>8<span class="s"></span><span class="f"><svg class="sl" width="22" height="26" viewBox="0 0 22 26"><line x1="16.6" y1="1.25" x2="4.45" y2="22.3"/></svg><span class="nE" style="left:-0.8px">5</span><span class="d" style="right:-0.5px">8</span></span></div>
<div class="t" style="left:553.2px;top:652.70px"><span class="o7"><svg width="16.1" height="20" viewBox="0 0 16.1 20"><ellipse cx="8.05" cy="5.95" rx="5.5" ry="5.15" fill="none" stroke="#161616" stroke-width="2.2"/><polygon points="14.55,7.5 7.9,20 5.1,20 10.15,10.5 13.0,6.8"/></svg></span><span class="s"></span><span class="hy"><svg width="8" height="3" viewBox="0 0 8 3"><rect x="0" y="0.35" width="7.7" height="2.25" rx="0.5"/></svg></span><span class="s"></span><span class="o7"><svg width="16.1" height="20" viewBox="0 0 16.1 20"><ellipse cx="8.05" cy="5.95" rx="5.5" ry="5.15" fill="none" stroke="#161616" stroke-width="2.2"/><polygon points="14.55,7.5 7.9,20 5.1,20 10.15,10.5 13.0,6.8"/></svg></span><span class="s"></span><span class="f"><svg class="sl" width="22" height="26" viewBox="0 0 22 26"><line x1="16.6" y1="1.25" x2="4.45" y2="22.3"/></svg><svg class="n1" style="top:-1.5px" width="8" height="13" viewBox="0 0 8 13"><polygon points="6.4,0 4.25,0 1.4,2.5 2.45,3.4 4.25,2.0 4.25,12.2 6.4,12.2"/></svg><span class="d" style="right:-1.2px">8</span></span></div>
<div class="t" style="left:769.0px;top:652.70px"><span class="o7"><svg width="16.1" height="20" viewBox="0 0 16.1 20"><ellipse cx="8.05" cy="5.95" rx="5.5" ry="5.15" fill="none" stroke="#161616" stroke-width="2.2"/><polygon points="14.55,7.5 7.9,20 5.1,20 10.15,10.5 13.0,6.8"/></svg></span><span class="s"></span><span class="f"><svg class="sl" width="22" height="26" viewBox="0 0 22 26"><line x1="16.6" y1="1.25" x2="4.45" y2="22.3"/></svg><svg class="n1" style="top:1.2px;left:0.0px" width="8" height="13" viewBox="0 0 8 13"><polygon points="6.4,0 4.25,0 1.05,1.9 1.95,3.0 4.25,1.9 4.25,11.8 6.4,11.8"/></svg><span class="d dL" style="right:0.3px">4</span></span><span class="s"></span><span class="hy"><svg width="8" height="3" viewBox="0 0 8 3"><rect x="0" y="0.35" width="7.7" height="2.25" rx="0.5"/></svg></span><span class="s"></span><span class="o7"><svg width="16.1" height="20" viewBox="0 0 16.1 20"><ellipse cx="8.05" cy="5.95" rx="5.5" ry="5.15" fill="none" stroke="#161616" stroke-width="2.2"/><polygon points="14.55,7.5 7.9,20 5.1,20 10.15,10.5 13.0,6.8"/></svg></span><span class="s"></span><span class="f"><svg class="sl" width="22" height="26" viewBox="0 0 22 26"><line x1="16.6" y1="1.25" x2="4.45" y2="22.3"/></svg><span class="nE" style="left:0.0px">3</span><span class="d" style="right:0.3px">8</span></span></div>
<div class="t" style="left:119.9px;top:700.70px"><span class="o7"><svg width="16.1" height="20" viewBox="0 0 16.1 20"><ellipse cx="8.05" cy="5.95" rx="5.5" ry="5.15" fill="none" stroke="#161616" stroke-width="2.2"/><polygon points="14.55,7.5 7.9,20 5.1,20 10.15,10.5 13.0,6.8"/></svg></span></div>
<div class="t" style="left:334.0px;top:700.70px">8<span class="s"></span><span class="f"><svg class="sl" width="22" height="26" viewBox="0 0 22 26"><line x1="16.6" y1="1.25" x2="4.45" y2="22.3"/></svg><span class="nE" style="left:-0.8px">5</span><span class="d" style="right:-0.5px">8</span></span><span class="s"></span><span class="hy"><svg width="8" height="3" viewBox="0 0 8 3"><rect x="0" y="0.35" width="7.7" height="2.25" rx="0.5"/></svg></span><span class="s"></span>8<span class="s"></span><span class="f"><svg class="sl" width="22" height="26" viewBox="0 0 22 26"><line x1="16.6" y1="1.25" x2="4.45" y2="22.3"/></svg><span class="nL" style="left:0.0px">3</span><span class="d dL" style="right:0.3px">4</span></span></div>
<div class="t" style="left:553.2px;top:700.70px"><span class="o7"><svg width="16.1" height="20" viewBox="0 0 16.1 20"><ellipse cx="8.05" cy="5.95" rx="5.5" ry="5.15" fill="none" stroke="#161616" stroke-width="2.2"/><polygon points="14.55,7.5 7.9,20 5.1,20 10.15,10.5 13.0,6.8"/></svg></span><span class="s"></span><span class="f"><svg class="sl" width="22" height="26" viewBox="0 0 22 26"><line x1="16.6" y1="1.25" x2="4.45" y2="22.3"/></svg><svg class="n1" style="top:-1.5px" width="8" height="13" viewBox="0 0 8 13"><polygon points="6.4,0 4.25,0 1.4,2.5 2.45,3.4 4.25,2.0 4.25,12.2 6.4,12.2"/></svg><span class="d" style="right:-1.2px">8</span></span><span class="s"></span><span class="hy"><svg width="8" height="3" viewBox="0 0 8 3"><rect x="0" y="0.35" width="7.7" height="2.25" rx="0.5"/></svg></span><span class="s"></span><span class="o7"><svg width="16.1" height="20" viewBox="0 0 16.1 20"><ellipse cx="8.05" cy="5.95" rx="5.5" ry="5.15" fill="none" stroke="#161616" stroke-width="2.2"/><polygon points="14.55,7.5 7.9,20 5.1,20 10.15,10.5 13.0,6.8"/></svg></span><span class="s"></span><span class="f"><svg class="sl" width="22" height="26" viewBox="0 0 22 26"><line x1="16.6" y1="1.25" x2="4.45" y2="22.3"/></svg><svg class="n1" style="top:1.2px;left:0.0px" width="8" height="13" viewBox="0 0 8 13"><polygon points="6.4,0 4.25,0 1.05,1.9 1.95,3.0 4.25,1.9 4.25,11.8 6.4,11.8"/></svg><span class="d dL" style="right:0.3px">4</span></span></div>
<div class="t" style="left:769.0px;top:700.70px"><span class="o7"><svg width="16.1" height="20" viewBox="0 0 16.1 20"><ellipse cx="8.05" cy="5.95" rx="5.5" ry="5.15" fill="none" stroke="#161616" stroke-width="2.2"/><polygon points="14.55,7.5 7.9,20 5.1,20 10.15,10.5 13.0,6.8"/></svg></span><span class="s"></span><span class="f"><svg class="sl" width="22" height="26" viewBox="0 0 22 26"><line x1="16.6" y1="1.25" x2="4.45" y2="22.3"/></svg><span class="nE" style="left:0.0px">3</span><span class="d" style="right:0.3px">8</span></span><span class="s"></span><span class="hy"><svg width="8" height="3" viewBox="0 0 8 3"><rect x="0" y="0.35" width="7.7" height="2.25" rx="0.5"/></svg></span><span class="s"></span><span class="o7"><svg width="16.1" height="20" viewBox="0 0 16.1 20"><ellipse cx="8.05" cy="5.95" rx="5.5" ry="5.15" fill="none" stroke="#161616" stroke-width="2.2"/><polygon points="14.55,7.5 7.9,20 5.1,20 10.15,10.5 13.0,6.8"/></svg></span><span class="s"></span><span class="f"><svg class="sl" width="22" height="26" viewBox="0 0 22 26"><line x1="16.6" y1="1.25" x2="4.45" y2="22.3"/></svg><svg class="n1" style="top:1.2px;left:-1.0px" width="8" height="13" viewBox="0 0 8 13"><polygon points="6.4,0 4.25,0 1.05,1.9 1.95,3.0 4.25,1.9 4.25,11.8 6.4,11.8"/></svg><span class="d dL" style="right:-0.7px">2</span></span></div>
<div class="t" style="left:119.9px;top:748.70px"><span class="o7"><svg width="16.1" height="20" viewBox="0 0 16.1 20"><ellipse cx="8.05" cy="5.95" rx="5.5" ry="5.15" fill="none" stroke="#161616" stroke-width="2.2"/><polygon points="14.55,7.5 7.9,20 5.1,20 10.15,10.5 13.0,6.8"/></svg></span><span class="s"></span><span class="f"><svg class="sl" width="22" height="26" viewBox="0 0 22 26"><line x1="16.6" y1="1.25" x2="4.45" y2="22.3"/></svg><svg class="n1" style="top:1.2px;left:-1.0px" width="8" height="13" viewBox="0 0 8 13"><polygon points="6.4,0 4.25,0 1.05,1.9 1.95,3.0 4.25,1.9 4.25,11.8 6.4,11.8"/></svg><span class="d dL" style="right:-0.7px">2</span></span></div>
<div class="t" style="left:334.0px;top:748.70px">8<span class="s"></span><span class="f"><svg class="sl" width="22" height="26" viewBox="0 0 22 26"><line x1="16.6" y1="1.25" x2="4.45" y2="22.3"/></svg><span class="nL" style="left:0.0px">3</span><span class="d dL" style="right:0.3px">4</span></span><span class="s"></span><span class="hy"><svg width="8" height="3" viewBox="0 0 8 3"><rect x="0" y="0.35" width="7.7" height="2.25" rx="0.5"/></svg></span><span class="s"></span>8<span class="s"></span><span class="f"><svg class="sl" width="22" height="26" viewBox="0 0 22 26"><line x1="16.6" y1="1.25" x2="4.45" y2="22.3"/></svg><span class="nE" style="left:0.0px">7</span><span class="d" style="right:0.3px">8</span></span></div>
<div class="t" style="left:553.2px;top:748.70px"><span class="o7"><svg width="16.1" height="20" viewBox="0 0 16.1 20"><ellipse cx="8.05" cy="5.95" rx="5.5" ry="5.15" fill="none" stroke="#161616" stroke-width="2.2"/><polygon points="14.55,7.5 7.9,20 5.1,20 10.15,10.5 13.0,6.8"/></svg></span><span class="s"></span><span class="f"><svg class="sl" width="22" height="26" viewBox="0 0 22 26"><line x1="16.6" y1="1.25" x2="4.45" y2="22.3"/></svg><svg class="n1" style="top:1.2px;left:0.0px" width="8" height="13" viewBox="0 0 8 13"><polygon points="6.4,0 4.25,0 1.05,1.9 1.95,3.0 4.25,1.9 4.25,11.8 6.4,11.8"/></svg><span class="d dL" style="right:0.3px">4</span></span><span class="s"></span><span class="hy"><svg width="8" height="3" viewBox="0 0 8 3"><rect x="0" y="0.35" width="7.7" height="2.25" rx="0.5"/></svg></span><span class="s"></span><span class="o7"><svg width="16.1" height="20" viewBox="0 0 16.1 20"><ellipse cx="8.05" cy="5.95" rx="5.5" ry="5.15" fill="none" stroke="#161616" stroke-width="2.2"/><polygon points="14.55,7.5 7.9,20 5.1,20 10.15,10.5 13.0,6.8"/></svg></span><span class="s"></span><span class="f"><svg class="sl" width="22" height="26" viewBox="0 0 22 26"><line x1="16.6" y1="1.25" x2="4.45" y2="22.3"/></svg><span class="nE" style="left:0.0px">3</span><span class="d" style="right:0.3px">8</span></span></div>
<div class="t" style="left:769.0px;top:748.70px"><span class="o7"><svg width="16.1" height="20" viewBox="0 0 16.1 20"><ellipse cx="8.05" cy="5.95" rx="5.5" ry="5.15" fill="none" stroke="#161616" stroke-width="2.2"/><polygon points="14.55,7.5 7.9,20 5.1,20 10.15,10.5 13.0,6.8"/></svg></span><span class="s"></span><span class="f"><svg class="sl" width="22" height="26" viewBox="0 0 22 26"><line x1="16.6" y1="1.25" x2="4.45" y2="22.3"/></svg><svg class="n1" style="top:1.2px;left:-1.0px" width="8" height="13" viewBox="0 0 8 13"><polygon points="6.4,0 4.25,0 1.05,1.9 1.95,3.0 4.25,1.9 4.25,11.8 6.4,11.8"/></svg><span class="d dL" style="right:-0.7px">2</span></span><span class="s"></span><span class="hy"><svg width="8" height="3" viewBox="0 0 8 3"><rect x="0" y="0.35" width="7.7" height="2.25" rx="0.5"/></svg></span><span class="s"></span><span class="o7"><svg width="16.1" height="20" viewBox="0 0 16.1 20"><ellipse cx="8.05" cy="5.95" rx="5.5" ry="5.15" fill="none" stroke="#161616" stroke-width="2.2"/><polygon points="14.55,7.5 7.9,20 5.1,20 10.15,10.5 13.0,6.8"/></svg></span><span class="s"></span><span class="f"><svg class="sl" width="22" height="26" viewBox="0 0 22 26"><line x1="16.6" y1="1.25" x2="4.45" y2="22.3"/></svg><span class="nE" style="left:-0.8px">5</span><span class="d" style="right:-0.5px">8</span></span></div>
<div class="t" style="left:119.9px;top:796.70px"><span class="o1"><svg width="16.1" height="20" viewBox="0 0 16.1 20"><polygon points="10.2,0 7.8,0 3.0,3.6 4.6,5.5 7.8,3.1 7.8,20 10.2,20"/></svg></span><span class="o7"><svg width="16.1" height="20" viewBox="0 0 16.1 20"><ellipse cx="8.05" cy="10" rx="5.85" ry="9.15" fill="none" stroke="#161616" stroke-width="2.2"/></svg></span></div>
<div class="t" style="left:334.0px;top:796.70px">8<span class="s"></span><span class="f"><svg class="sl" width="22" height="26" viewBox="0 0 22 26"><line x1="16.6" y1="1.25" x2="4.45" y2="22.3"/></svg><span class="nE" style="left:0.0px">7</span><span class="d" style="right:0.3px">8</span></span><span class="s"></span><span class="hy"><svg width="8" height="3" viewBox="0 0 8 3"><rect x="0" y="0.35" width="7.7" height="2.25" rx="0.5"/></svg></span><span class="s"></span><span class="o7"><svg width="16.1" height="20" viewBox="0 0 16.1 20"><ellipse cx="8.05" cy="5.95" rx="5.5" ry="5.15" fill="none" stroke="#161616" stroke-width="2.2"/><polygon points="14.55,7.5 7.9,20 5.1,20 10.15,10.5 13.0,6.8"/></svg></span></div>
<div class="t" style="left:553.2px;top:796.70px"><span class="o7"><svg width="16.1" height="20" viewBox="0 0 16.1 20"><ellipse cx="8.05" cy="5.95" rx="5.5" ry="5.15" fill="none" stroke="#161616" stroke-width="2.2"/><polygon points="14.55,7.5 7.9,20 5.1,20 10.15,10.5 13.0,6.8"/></svg></span><span class="s"></span><span class="f"><svg class="sl" width="22" height="26" viewBox="0 0 22 26"><line x1="16.6" y1="1.25" x2="4.45" y2="22.3"/></svg><span class="nE" style="left:0.0px">3</span><span class="d" style="right:0.3px">8</span></span><span class="s"></span><span class="hy"><svg width="8" height="3" viewBox="0 0 8 3"><rect x="0" y="0.35" width="7.7" height="2.25" rx="0.5"/></svg></span><span class="s"></span><span class="o7"><svg width="16.1" height="20" viewBox="0 0 16.1 20"><ellipse cx="8.05" cy="5.95" rx="5.5" ry="5.15" fill="none" stroke="#161616" stroke-width="2.2"/><polygon points="14.55,7.5 7.9,20 5.1,20 10.15,10.5 13.0,6.8"/></svg></span><span class="s"></span><span class="f"><svg class="sl" width="22" height="26" viewBox="0 0 22 26"><line x1="16.6" y1="1.25" x2="4.45" y2="22.3"/></svg><svg class="n1" style="top:1.2px;left:-1.0px" width="8" height="13" viewBox="0 0 8 13"><polygon points="6.4,0 4.25,0 1.05,1.9 1.95,3.0 4.25,1.9 4.25,11.8 6.4,11.8"/></svg><span class="d dL" style="right:-0.7px">2</span></span></div>
<div class="t" style="left:769.0px;top:796.70px"><span class="o7"><svg width="16.1" height="20" viewBox="0 0 16.1 20"><ellipse cx="8.05" cy="5.95" rx="5.5" ry="5.15" fill="none" stroke="#161616" stroke-width="2.2"/><polygon points="14.55,7.5 7.9,20 5.1,20 10.15,10.5 13.0,6.8"/></svg></span><span class="s"></span><span class="f"><svg class="sl" width="22" height="26" viewBox="0 0 22 26"><line x1="16.6" y1="1.25" x2="4.45" y2="22.3"/></svg><span class="nE" style="left:-0.8px">5</span><span class="d" style="right:-0.5px">8</span></span><span class="s"></span><span class="hy"><svg width="8" height="3" viewBox="0 0 8 3"><rect x="0" y="0.35" width="7.7" height="2.25" rx="0.5"/></svg></span><span class="s"></span><span class="o7"><svg width="16.1" height="20" viewBox="0 0 16.1 20"><ellipse cx="8.05" cy="5.95" rx="5.5" ry="5.15" fill="none" stroke="#161616" stroke-width="2.2"/><polygon points="14.55,7.5 7.9,20 5.1,20 10.15,10.5 13.0,6.8"/></svg></span><span class="s"></span><span class="f"><svg class="sl" width="22" height="26" viewBox="0 0 22 26"><line x1="16.6" y1="1.25" x2="4.45" y2="22.3"/></svg><span class="nL" style="left:0.0px">3</span><span class="d dL" style="right:0.3px">4</span></span></div>
<div class="t" style="left:119.9px;top:844.70px"><span class="o1"><svg width="16.1" height="20" viewBox="0 0 16.1 20"><polygon points="10.2,0 7.8,0 3.0,3.6 4.6,5.5 7.8,3.1 7.8,20 10.2,20"/></svg></span><span class="o7"><svg width="16.1" height="20" viewBox="0 0 16.1 20"><ellipse cx="8.05" cy="10" rx="5.85" ry="9.15" fill="none" stroke="#161616" stroke-width="2.2"/></svg></span><span class="s"></span><span class="f"><svg class="sl" width="22" height="26" viewBox="0 0 22 26"><line x1="16.6" y1="1.25" x2="4.45" y2="22.3"/></svg><svg class="n1" style="top:1.2px;left:-1.0px" width="8" height="13" viewBox="0 0 8 13"><polygon points="6.4,0 4.25,0 1.05,1.9 1.95,3.0 4.25,1.9 4.25,11.8 6.4,11.8"/></svg><span class="d dL" style="right:-0.7px">2</span></span></div>
<div class="t" style="left:334.0px;top:844.70px"><span class="o7"><svg width="16.1" height="20" viewBox="0 0 16.1 20"><ellipse cx="8.05" cy="5.95" rx="5.5" ry="5.15" fill="none" stroke="#161616" stroke-width="2.2"/><polygon points="14.55,7.5 7.9,20 5.1,20 10.15,10.5 13.0,6.8"/></svg></span><span class="s"></span><span class="hy"><svg width="8" height="3" viewBox="0 0 8 3"><rect x="0" y="0.35" width="7.7" height="2.25" rx="0.5"/></svg></span><span class="s"></span><span class="o7"><svg width="16.1" height="20" viewBox="0 0 16.1 20"><ellipse cx="8.05" cy="5.95" rx="5.5" ry="5.15" fill="none" stroke="#161616" stroke-width="2.2"/><polygon points="14.55,7.5 7.9,20 5.1,20 10.15,10.5 13.0,6.8"/></svg></span><span class="s"></span><span class="f"><svg class="sl" width="22" height="26" viewBox="0 0 22 26"><line x1="16.6" y1="1.25" x2="4.45" y2="22.3"/></svg><svg class="n1" style="top:-1.5px" width="8" height="13" viewBox="0 0 8 13"><polygon points="6.4,0 4.25,0 1.4,2.5 2.45,3.4 4.25,2.0 4.25,12.2 6.4,12.2"/></svg><span class="d" style="right:-1.2px">8</span></span></div>
<div class="t" style="left:553.2px;top:844.70px"><span class="o7"><svg width="16.1" height="20" viewBox="0 0 16.1 20"><ellipse cx="8.05" cy="5.95" rx="5.5" ry="5.15" fill="none" stroke="#161616" stroke-width="2.2"/><polygon points="14.55,7.5 7.9,20 5.1,20 10.15,10.5 13.0,6.8"/></svg></span><span class="s"></span><span class="f"><svg class="sl" width="22" height="26" viewBox="0 0 22 26"><line x1="16.6" y1="1.25" x2="4.45" y2="22.3"/></svg><svg class="n1" style="top:1.2px;left:-1.0px" width="8" height="13" viewBox="0 0 8 13"><polygon points="6.4,0 4.25,0 1.05,1.9 1.95,3.0 4.25,1.9 4.25,11.8 6.4,11.8"/></svg><span class="d dL" style="right:-0.7px">2</span></span><span class="s"></span><span class="hy"><svg width="8" height="3" viewBox="0 0 8 3"><rect x="0" y="0.35" width="7.7" height="2.25" rx="0.5"/></svg></span><span class="s"></span><span class="o7"><svg width="16.1" height="20" viewBox="0 0 16.1 20"><ellipse cx="8.05" cy="5.95" rx="5.5" ry="5.15" fill="none" stroke="#161616" stroke-width="2.2"/><polygon points="14.55,7.5 7.9,20 5.1,20 10.15,10.5 13.0,6.8"/></svg></span><span class="s"></span><span class="f"><svg class="sl" width="22" height="26" viewBox="0 0 22 26"><line x1="16.6" y1="1.25" x2="4.45" y2="22.3"/></svg><span class="nE" style="left:-0.8px">5</span><span class="d" style="right:-0.5px">8</span></span></div>
<div class="t" style="left:769.0px;top:844.70px"><span class="o7"><svg width="16.1" height="20" viewBox="0 0 16.1 20"><ellipse cx="8.05" cy="5.95" rx="5.5" ry="5.15" fill="none" stroke="#161616" stroke-width="2.2"/><polygon points="14.55,7.5 7.9,20 5.1,20 10.15,10.5 13.0,6.8"/></svg></span><span class="s"></span><span class="f"><svg class="sl" width="22" height="26" viewBox="0 0 22 26"><line x1="16.6" y1="1.25" x2="4.45" y2="22.3"/></svg><span class="nL" style="left:0.0px">3</span><span class="d dL" style="right:0.3px">4</span></span><span class="s"></span><span class="hy"><svg width="8" height="3" viewBox="0 0 8 3"><rect x="0" y="0.35" width="7.7" height="2.25" rx="0.5"/></svg></span><span class="s"></span><span class="o7"><svg width="16.1" height="20" viewBox="0 0 16.1 20"><ellipse cx="8.05" cy="5.95" rx="5.5" ry="5.15" fill="none" stroke="#161616" stroke-width="2.2"/><polygon points="14.55,7.5 7.9,20 5.1,20 10.15,10.5 13.0,6.8"/></svg></span><span class="s"></span><span class="f"><svg class="sl" width="22" height="26" viewBox="0 0 22 26"><line x1="16.6" y1="1.25" x2="4.45" y2="22.3"/></svg><span class="nE" style="left:0.0px">7</span><span class="d" style="right:0.3px">8</span></span></div>
<div class="t" style="left:119.9px;top:892.70px"><span class="o1"><svg width="16.1" height="20" viewBox="0 0 16.1 20"><polygon points="10.2,0 7.8,0 3.0,3.6 4.6,5.5 7.8,3.1 7.8,20 10.2,20"/></svg></span><span class="o1"><svg width="16.1" height="20" viewBox="0 0 16.1 20"><polygon points="10.2,0 7.8,0 3.0,3.6 4.6,5.5 7.8,3.1 7.8,20 10.2,20"/></svg></span></div>
<div class="t" style="left:332.7px;top:892.70px"><span class="o7"><svg width="16.1" height="20" viewBox="0 0 16.1 20"><ellipse cx="8.05" cy="5.95" rx="5.5" ry="5.15" fill="none" stroke="#161616" stroke-width="2.2"/><polygon points="14.55,7.5 7.9,20 5.1,20 10.15,10.5 13.0,6.8"/></svg></span><span class="s"></span><span class="f"><svg class="sl" width="22" height="26" viewBox="0 0 22 26"><line x1="16.6" y1="1.25" x2="4.45" y2="22.3"/></svg><svg class="n1" style="top:-1.5px" width="8" height="13" viewBox="0 0 8 13"><polygon points="6.4,0 4.25,0 1.4,2.5 2.45,3.4 4.25,2.0 4.25,12.2 6.4,12.2"/></svg></span><span class="s"></span><span class="hy"><svg width="8" height="3" viewBox="0 0 8 3"><rect x="0" y="0.35" width="7.7" height="2.25" rx="0.5"/></svg></span><span class="s"></span><span class="o7"><svg width="16.1" height="20" viewBox="0 0 16.1 20"><ellipse cx="8.05" cy="5.95" rx="5.5" ry="5.15" fill="none" stroke="#161616" stroke-width="2.2"/><polygon points="14.55,7.5 7.9,20 5.1,20 10.15,10.5 13.0,6.8"/></svg></span><span class="s"></span><span class="f"><svg class="sl" width="22" height="26" viewBox="0 0 22 26"><line x1="16.6" y1="1.25" x2="4.45" y2="22.3"/></svg><svg class="n1" style="top:1.2px;left:0.0px" width="8" height="13" viewBox="0 0 8 13"><polygon points="6.4,0 4.25,0 1.05,1.9 1.95,3.0 4.25,1.9 4.25,11.8 6.4,11.8"/></svg><span class="d dL" style="right:0.3px">4</span></span></div>
<div class="t" style="left:553.2px;top:892.70px"><span class="o7"><svg width="16.1" height="20" viewBox="0 0 16.1 20"><ellipse cx="8.05" cy="5.95" rx="5.5" ry="5.15" fill="none" stroke="#161616" stroke-width="2.2"/><polygon points="14.55,7.5 7.9,20 5.1,20 10.15,10.5 13.0,6.8"/></svg></span><span class="s"></span><span class="f"><svg class="sl" width="22" height="26" viewBox="0 0 22 26"><line x1="16.6" y1="1.25" x2="4.45" y2="22.3"/></svg><span class="nE" style="left:-0.8px">5</span><span class="d" style="right:-0.5px">8</span></span><span class="s"></span><span class="hy"><svg width="8" height="3" viewBox="0 0 8 3"><rect x="0" y="0.35" width="7.7" height="2.25" rx="0.5"/></svg></span><span class="s"></span><span class="o7"><svg width="16.1" height="20" viewBox="0 0 16.1 20"><ellipse cx="8.05" cy="5.95" rx="5.5" ry="5.15" fill="none" stroke="#161616" stroke-width="2.2"/><polygon points="14.55,7.5 7.9,20 5.1,20 10.15,10.5 13.0,6.8"/></svg></span><span class="s"></span><span class="f"><svg class="sl" width="22" height="26" viewBox="0 0 22 26"><line x1="16.6" y1="1.25" x2="4.45" y2="22.3"/></svg><span class="nL" style="left:0.0px">3</span><span class="d dL" style="right:0.3px">4</span></span></div>
<div class="t" style="left:769.6px;top:892.70px"><span class="o7"><svg width="16.1" height="20" viewBox="0 0 16.1 20"><ellipse cx="8.05" cy="5.95" rx="5.5" ry="5.15" fill="none" stroke="#161616" stroke-width="2.2"/><polygon points="14.55,7.5 7.9,20 5.1,20 10.15,10.5 13.0,6.8"/></svg></span><span class="s"></span><span class="f"><svg class="sl" width="22" height="26" viewBox="0 0 22 26"><line x1="16.6" y1="1.25" x2="4.45" y2="22.3"/></svg><span class="nE" style="left:0.0px">7</span><span class="d" style="right:0.3px">8</span><span class="d" style="right:auto;left:-4.1px">8</span></span><span class="s"></span><span class="hy"><svg width="8" height="3" viewBox="0 0 8 3"><rect x="0" y="0.35" width="7.7" height="2.25" rx="0.5"/></svg></span><span class="s"></span><span class="o1"><svg width="16.1" height="20" viewBox="0 0 16.1 20"><polygon points="10.2,0 7.8,0 3.0,3.6 4.6,5.5 7.8,3.1 7.8,20 10.2,20"/></svg></span><span class="o7"><svg width="16.1" height="20" viewBox="0 0 16.1 20"><ellipse cx="8.05" cy="10" rx="5.85" ry="9.15" fill="none" stroke="#161616" stroke-width="2.2"/></svg></span></div>
</div>
</body></html>
